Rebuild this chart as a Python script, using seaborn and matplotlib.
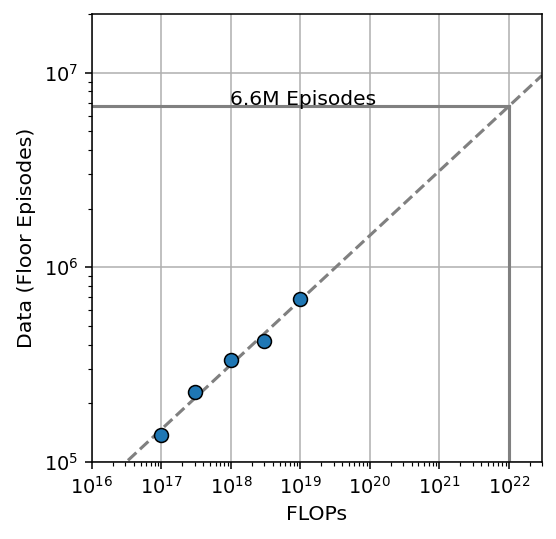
import numpy as np
import pandas as pd
import matplotlib
matplotlib.use("Agg")
import matplotlib.pyplot as plt
import seaborn as sns

flops = [1e17, 3e17, 1e18, 3e18, 1e19]
episodes = [1.38e5, 2.29e5, 3.35e5, 4.19e5, 6.89e5]
target_flops = 1e22
label_text = "6.6M Episodes"

plt.rcParams["font.size"] = 10
plt.rcParams["font.family"] = ["DejaVu Sans"]

DPI = 139
fig = plt.figure(figsize=(556 / DPI, 539 / DPI), dpi=DPI)
ax = fig.add_axes([0.1655, 0.1429, 0.9748 - 0.1655, 0.974 - 0.1429])

xlim = (1e16, 3e22)
ylim = (1e5, 2e7)

# fit in log-log space
coef = np.polyfit(np.log10(flops), np.log10(episodes), 1)
xs = np.logspace(np.log10(xlim[0]), np.log10(xlim[1]), 50)
ys = 10 ** np.polyval(coef, np.log10(xs))
pred = 10 ** np.polyval(coef, np.log10(target_flops))

ax.set_xscale("log")
ax.set_yscale("log")
ax.grid(True, which="major", color="#b0b0b0", linewidth=0.8)
ax.set_axisbelow(True)

fit_df = pd.DataFrame({"x": xs, "y": ys})
sns.lineplot(data=fit_df, x="x", y="y", ax=ax, color="gray", linestyle="--",
             linewidth=1.6, zorder=2)

ax.plot([xlim[0], target_flops], [pred, pred], color="gray", linewidth=1.6, zorder=2)
ax.plot([target_flops, target_flops], [ylim[0], pred], color="gray", linewidth=1.6, zorder=2)

df = pd.DataFrame({"FLOPs": flops, "Episodes": episodes})
sns.scatterplot(data=df, x="FLOPs", y="Episodes", ax=ax, color="#1f77b4",
                edgecolor="black", linewidth=0.8, s=52, zorder=3)

ax.text(1.1e19, pred * 1.02, label_text, ha="center", va="baseline", fontsize=10.5)

ax.set_xlim(*xlim)
ax.set_ylim(*ylim)
ax.set_xticks([10.0 ** k for k in range(16, 23)])
ax.set_xlabel("FLOPs", fontsize=10.6)
ax.set_ylabel("Data (Floor Episodes)", fontsize=10.6)

fig.savefig("out.png", dpi=DPI)
